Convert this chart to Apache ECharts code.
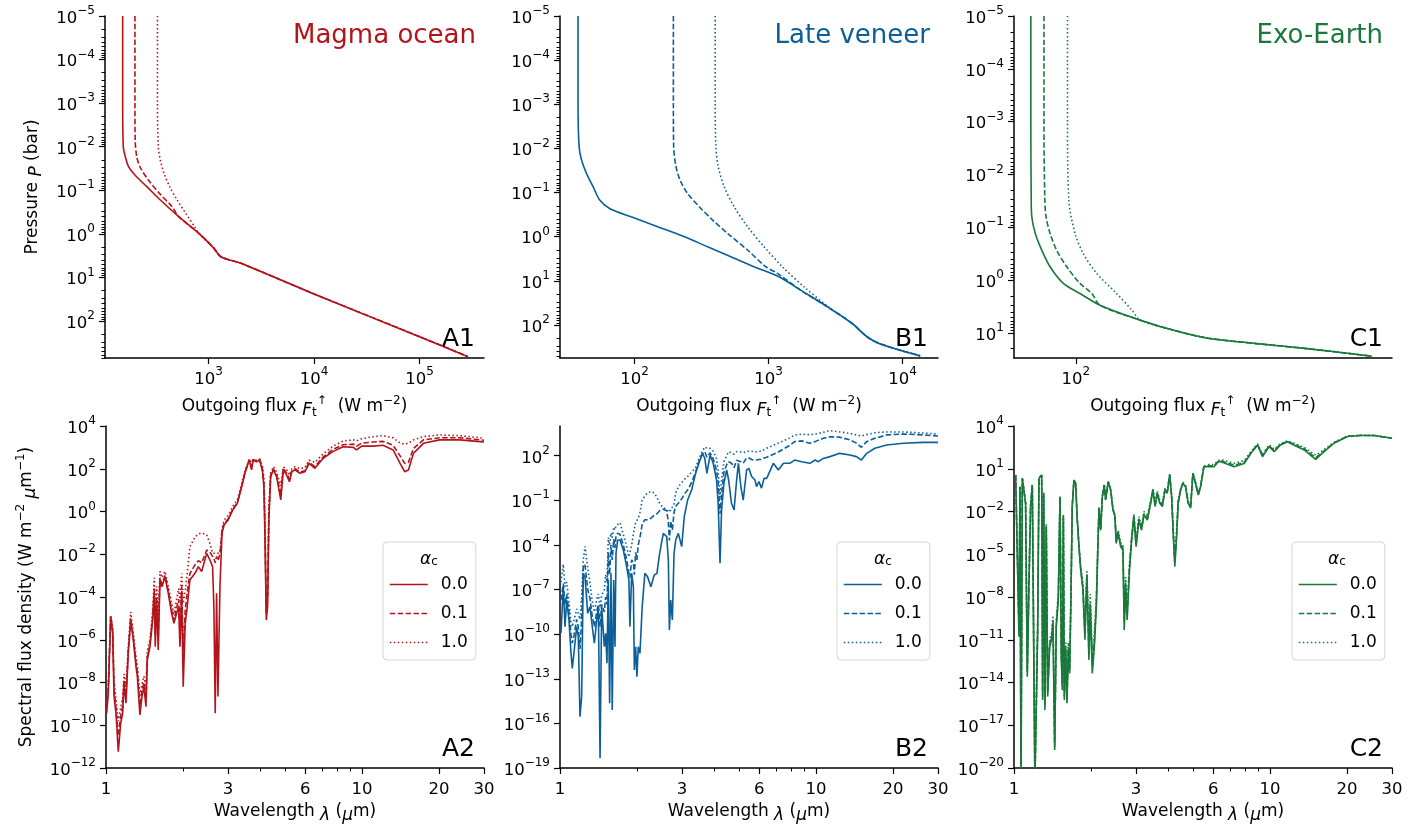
<!DOCTYPE html>
<html>
<head>
<meta charset="utf-8">
<title>Outgoing flux and emission spectra</title>
<script src="https://cdn.jsdelivr.net/npm/echarts@6.0.0/dist/echarts.min.js"></script>
<style>
  html, body { margin: 0; padding: 0; background: #fff; }
  #chart { width: 1420px; height: 825px; }
</style>
</head>
<body>
<div id="chart"></div>
<script>
// colours of the three scenarios
const RED = '#b3141c';
const BLUE = '#0b5f98';
const GREEN = '#18793a';
const FONT = 'DejaVu Sans';

// cloud parameter values shown in the legends
const alphaLabels = ['0.0', '0.1', '1.0'];

// ---- top row: outgoing flux (W m-2) against pressure (bar) ----
const magmaFlux0 = [153, 153, 155, 162, 174, 200, 259, 348, 520, 807, 1124, 1303, 2023, 10000, 100000, 288000];
const magmaPress0 = [1e-5, 1e-3, 0.01, 0.0169, 0.0288, 0.0447, 0.0826, 0.167, 0.403, 0.973, 2.15, 3.34, 4.75, 24, 229, 660];
const magmaFlux1 = [200, 200, 201, 208, 223, 268, 342, 450, 520, 807, 1124, 1303, 2023, 10000, 100000, 288000];
const magmaPress1 = [1e-5, 1e-3, 0.007, 0.0169, 0.0288, 0.0582, 0.118, 0.238, 0.403, 0.973, 2.15, 3.34, 4.75, 24, 229, 660];
const magmaFlux2 = [327, 327, 333, 348, 377, 427, 502, 607, 735, 807, 1124, 1303, 2023, 10000, 100000, 288000];
const magmaPress2 = [1e-5, 1e-3, 0.01, 0.0202, 0.0409, 0.0826, 0.167, 0.339, 0.684, 0.973, 2.15, 3.34, 4.75, 24, 229, 660];

const veneerFlux0 = [37.9, 37.9, 38.6, 40.2, 43.8, 49.1, 55, 65.2, 94.4, 149, 236, 351, 524, 780, 1197, 1735, 2740, 4204, 5433, 6823, 13550];
const veneerPress0 = [1e-5, 1e-3, 0.0091, 0.018, 0.0367, 0.0736, 0.148, 0.229, 0.355, 0.593, 1.0, 1.69, 2.84, 4.79, 8.05, 16.2, 38.5, 92, 185, 269, 501];
const veneerFlux1 = [195, 195, 196, 204, 219, 249, 304, 383, 494, 697, 953, 1164, 1735, 2740, 4204, 5433, 6823, 13550];
const veneerPress1 = [1e-5, 1e-3, 0.0091, 0.0257, 0.0525, 0.105, 0.209, 0.42, 0.84, 2.0, 4.79, 6.76, 16.2, 38.5, 92, 185, 269, 501];
const veneerFlux2 = [400, 400, 405, 421, 467, 554, 697, 927, 1268, 1837, 2790, 4204, 5433, 6823, 13550];
const veneerPress2 = [1e-5, 1e-3, 0.0091, 0.0257, 0.0736, 0.209, 0.593, 1.69, 4.79, 13.6, 38.5, 92, 185, 269, 501];

const earthFlux0 = [73.1, 73.1, 73.3, 73.6, 75.4, 78.9, 83.6, 91.7, 103, 118.5, 157, 198, 249, 353, 501, 789];
const earthPress0 = [1e-5, 1e-3, 0.0307, 0.0635, 0.1315, 0.272, 0.562, 1.16, 1.80, 3.0, 5.77, 8.93, 12.5, 16.0, 19.9, 27.7];
const earthFlux1 = [80.1, 80.1, 80.6, 81.3, 83.6, 87.5, 93.9, 103, 111.8, 118.5, 157, 198, 249, 353, 501, 789];
const earthPress1 = [1e-5, 1e-3, 0.0307, 0.0635, 0.1315, 0.272, 0.562, 1.16, 1.80, 3.0, 5.77, 8.93, 12.5, 16.0, 19.9, 27.7];
const earthFlux2 = [94.4, 94.4, 95.3, 99.5, 105.4, 115.8, 133, 148, 157, 198, 249, 353, 501, 789];
const earthPress2 = [1e-5, 1e-3, 0.0307, 0.1315, 0.315, 0.753, 1.80, 3.73, 5.77, 8.93, 12.5, 16.0, 19.9, 27.7];

// ---- bottom row: wavelength (um) and log10 of spectral flux density ----
const magmaWave = [
  1.006, 1.021, 1.043, 1.062, 1.075, 1.094, 1.117, 1.141, 1.162, 1.176,
  1.197, 1.222, 1.249, 1.279, 1.31, 1.326, 1.357, 1.382, 1.407, 1.433,
  1.45, 1.485, 1.522, 1.544, 1.558, 1.577, 1.6, 1.625, 1.655, 1.70,
  1.751, 1.805, 1.843, 1.888, 1.923, 1.945, 1.976, 2.003, 2.04, 2.077,
  2.127, 2.227, 2.295, 2.365, 2.475, 2.547, 2.609, 2.64, 2.672, 2.705,
  2.738, 2.788, 2.84, 2.893, 3.0, 3.127, 3.26, 3.39, 3.49, 3.63,
  3.705, 3.76, 3.876, 3.99, 4.09, 4.14, 4.18, 4.23, 4.28, 4.33,
  4.4, 4.51, 4.64, 4.82, 4.93, 5.08, 5.21, 5.32, 5.48, 5.72,
  5.99, 6.22, 6.55, 7.06, 7.7, 8.44, 9.26, 9.53, 9.98, 11.06,
  12.1, 13.24, 14.1, 14.7, 15.2, 15.9, 17.4, 20.1, 24.1, 28.9,
  30
];
const magmaSpec0 = [
  -9.44, -8.5, -4.92, -5.7, -8.66, -9.44, -11.24, -9.91, -9.44, -8.04,
  -8.97, -6.63, -5.08, -6.01, -7.26, -7.73, -9.52, -8.66, -8.2, -9.13,
  -6.95, -6.33, -5.08, -3.83, -6.33, -4.14, -6.48, -3.2, -3.52, -3.05,
  -3.83, -4.76, -5.23, -4.76, -4.45, -6.33, -3.83, -8.2, -5.23, -4.45,
  -3.2, -2.89, -2.58, -2.81, -1.96, -2.27, -2.58, -4.45, -9.44, -3.83,
  -8.66, -3.52, -1.02, -0.63, -0.4, 0.07, 0.38, 1.16, 1.79, 2.41,
  1.95, 2.41, 2.33, 2.41, 1.86, 1.16, -1.18, -5.08, -4.45, -0.4,
  1.63, 1.95, 1.63, 0.54, 1.95, 1.7, 1.39, 1.86, 1.95, 1.79,
  1.86, 2.25, 2.02, 2.49, 2.8, 3.03, 3.0, 2.88, 3.06, 3.06,
  3.1, 2.88, 2.25, 1.86, 1.94, 2.72, 3.19, 3.35, 3.35, 3.27,
  3.25
];
const magmaSpec1 = [
  -9.2, -8.3, -4.9, -5.6, -8.3, -9.2, -10.5, -9.6, -9.1, -7.9,
  -8.6, -6.5, -5.0, -5.9, -7.1, -7.5, -9.1, -8.4, -8.0, -8.8,
  -6.8, -6.2, -4.9, -3.6, -5.8, -4.0, -5.9, -3.1, -3.4, -3.0,
  -3.7, -4.6, -5.1, -4.5, -4.1, -5.5, -3.5, -6.5, -4.6, -3.8,
  -2.9, -2.5, -2.3, -2.4, -1.8, -1.9, -2.1, -2.2, -2.4, -2.1,
  -2.3, -2.0, -0.95, -0.55, -0.35, 0.1, 0.42, 1.2, 1.82, 2.42,
  2.1, 2.42, 2.35, 2.42, 1.95, 1.3, -0.8, -4.8, -4.1, -0.1,
  1.7, 2.0, 1.7, 0.8, 2.0, 1.8, 1.5, 1.9, 2.0, 1.85,
  1.9, 2.3, 2.1, 2.55, 2.9, 3.12, 3.15, 3.05, 3.2, 3.25,
  3.28, 3.1, 2.6, 2.25, 2.3, 2.95, 3.35, 3.45, 3.45, 3.35,
  3.33
];
const magmaSpec2 = [
  -8.9, -8.0, -4.85, -5.4, -7.9, -8.8, -9.8, -9.2, -8.7, -7.6,
  -8.2, -6.3, -4.7, -5.7, -6.8, -7.2, -8.6, -8.1, -7.7, -8.3,
  -6.5, -6.0, -4.6, -3.1, -5.0, -3.5, -5.0, -2.8, -3.1, -2.8,
  -3.5, -4.3, -4.8, -4.1, -3.6, -4.2, -2.9, -4.3, -3.7, -2.9,
  -1.65, -1.2, -1.05, -1.0, -1.1, -1.5, -1.95, -1.95, -1.95, -1.95,
  -1.95, -1.9, -0.8, -0.4, -0.2, 0.25, 0.55, 1.3, 1.9, 2.45,
  2.3, 2.45, 2.4, 2.45, 2.1, 1.6, -0.3, -4.5, -3.7, 0.3,
  1.8, 2.1, 1.85, 1.2, 2.1, 1.95, 1.7, 2.0, 2.1, 2.0,
  2.05, 2.4, 2.3, 2.7, 3.05, 3.3, 3.35, 3.3, 3.4, 3.5,
  3.55, 3.45, 3.2, 3.15, 3.2, 3.35, 3.5, 3.58, 3.55, 3.45,
  3.43
];

const veneerWave = [
  1.009, 1.03, 1.046, 1.062, 1.084, 1.104, 1.117, 1.137, 1.162, 1.179,
  1.197, 1.215, 1.233, 1.252, 1.283, 1.31, 1.337, 1.362, 1.391, 1.412,
  1.434, 1.455, 1.49, 1.508, 1.526, 1.544, 1.563, 1.582, 1.6, 1.621,
  1.64, 1.655, 1.68, 1.716, 1.768, 1.822, 1.859, 1.876, 1.906, 1.935,
  1.952, 1.975, 1.998, 2.022, 2.053, 2.095, 2.146, 2.198, 2.266, 2.335,
  2.392, 2.451, 2.533, 2.612, 2.651, 2.675, 2.708, 2.748, 2.79, 2.833,
  2.9, 2.989, 3.059, 3.152, 3.268, 3.388, 3.49, 3.6, 3.68, 3.75,
  3.86, 3.97, 4.09, 4.15, 4.22, 4.28, 4.37, 4.48, 4.56, 4.68,
  4.79, 4.9, 4.98, 5.09, 5.2, 5.36, 5.47, 5.61, 5.78, 5.86,
  5.99, 6.13, 6.27, 6.42, 6.82, 7.13, 7.47, 7.9, 8.26, 8.79,
  9.47, 9.93, 10.23, 10.69, 11.35, 12.4, 13.6, 14.4, 15.06, 15.8,
  17.0, 18.9, 22.0, 26.2, 30
];
const veneerSpec0 = [
  -9.94, -6.81, -9.5, -7.7, -9.05, -11.29, -12.3, -11.06, -9.5, -10.17,
  -15.55, -14.2, -5.91, -6.13, -8.6, -8.15, -9.5, -10.61, -9.05, -8.15,
  -18.35, -8.15, -10.84, -9.94, -11.96, -6.36, -14.65, -5.91, -15.1, -6.36,
  -10.84, -4.56, -3.67, -3.67, -4.34, -5.46, -6.36, -9.5, -5.91, -6.81,
  -12.41, -10.84, -12.86, -10.84, -11.29, -8.15, -5.91, -6.13, -6.81, -6.02,
  -5.91, -4.56, -3.22, -3.44, -5.01, -9.72, -7.7, -9.05, -4.56, -3.67,
  -3.22, -4.11, -2.1, -0.98, -0.3, 0.82, 1.49, 2.16, 1.83, 0.82,
  2.05, 1.49, 0.37, -1.2, -5.23, -1.65, 0.15, 1.04, 0.37, -1.2,
  -1.65, 0.37, 1.49, -0.07, -0.98, 1.04, 1.15, 0.6, 0.37, -0.07,
  0.26, -0.18, 0.48, 0.48, 1.49, 1.04, 1.49, 1.49, 1.71, 1.6,
  1.49, 1.71, 1.6, 1.82, 1.94, 2.16, 2.05, 1.94, 1.71, 2.16,
  2.5, 2.72, 2.84, 2.9, 2.9
];
const veneerSpec1 = [
  -7.7, -6.6, -8.0, -7.3, -8.5, -10.0, -10.6, -10.0, -9.0, -9.5,
  -11.0, -9.0, -5.5, -5.3, -7.0, -7.6, -8.8, -9.5, -8.5, -8.0,
  -9.5, -8.0, -8.5, -7.5, -8.0, -4.5, -6.0, -4.0, -5.0, -3.6,
  -4.2, -3.4, -3.2, -3.3, -4.0, -5.0, -5.9, -6.2, -5.0, -5.2,
  -6.0, -4.5, -5.0, -4.0, -3.5, -2.6, -2.3, -2.3, -2.2, -2.0,
  -1.9, -1.7, -1.6, -1.7, -2.5, -3.7, -2.4, -3.0, -1.8, -1.4,
  -1.2, -0.9, -0.6, -0.3, 0.2, 0.9, 1.6, 2.1, 2.27, 1.9,
  2.2, 1.8, 1.0, 0.2, -1.9, -0.6, 0.9, 1.4, 1.6, 1.5,
  1.2, 1.7, 1.8, 1.6, 1.5, 1.85, 1.85, 1.75, 1.7, 1.7,
  1.75, 1.75, 1.85, 1.9, 2.1, 2.25, 2.45, 2.7, 2.95, 3.0,
  2.84, 2.95, 3.05, 3.17, 3.28, 3.25, 3.06, 2.85, 2.57, 2.95,
  3.17, 3.4, 3.46, 3.4, 3.33
];
const veneerSpec2 = [
  -6.5, -5.3, -6.8, -6.5, -7.8, -9.2, -9.5, -9.0, -8.3, -8.6,
  -9.0, -7.5, -5.0, -4.1, -5.5, -6.6, -7.8, -8.5, -7.7, -7.3,
  -8.2, -7.4, -7.0, -6.0, -6.5, -3.5, -4.0, -3.2, -3.5, -2.8,
  -3.0, -2.7, -2.6, -2.5, -3.3, -4.1, -4.8, -4.8, -4.0, -3.3,
  -2.9, -2.5, -2.6, -2.2, -1.8, -1.0, -0.7, -0.5, -0.4, -0.5,
  -0.8, -1.2, -1.5, -1.6, -1.6, -1.8, -1.6, -1.7, -1.3, -0.5,
  -0.1, 0.2, 0.4, 0.6, 0.9, 1.2, 1.8, 2.3, 2.6, 2.5,
  2.5, 2.3, 1.8, 1.0, -0.8, 0.4, 1.6, 2.0, 2.27, 2.2,
  2.1, 2.27, 2.3, 2.25, 2.2, 2.3, 2.3, 2.3, 2.25, 2.25,
  2.3, 2.3, 2.4, 2.5, 2.7, 2.85, 3.0, 3.2, 3.39, 3.45,
  3.42, 3.46, 3.5, 3.58, 3.69, 3.6, 3.5, 3.4, 3.33, 3.42,
  3.55, 3.6, 3.6, 3.53, 3.46
];

const earthWave = [
  1.015, 1.033, 1.046, 1.055, 1.065, 1.078, 1.094, 1.11, 1.127, 1.144,
  1.161, 1.179, 1.197, 1.207, 1.222, 1.237, 1.252, 1.271, 1.283, 1.294,
  1.306, 1.321, 1.337, 1.354, 1.378, 1.403, 1.42, 1.442, 1.463, 1.49,
  1.513, 1.531, 1.545, 1.559, 1.573, 1.592, 1.611, 1.63, 1.65, 1.669,
  1.689, 1.715, 1.741, 1.767, 1.794, 1.822, 1.859, 1.893, 1.927, 1.962,
  1.986, 2.023, 2.061, 2.098, 2.124, 2.149, 2.181, 2.214, 2.253, 2.28,
  2.334, 2.386, 2.436, 2.48, 2.508, 2.554, 2.61, 2.665, 2.696, 2.729,
  2.768, 2.827, 2.876, 2.94, 3.0, 3.076, 3.15, 3.22, 3.32, 3.42,
  3.49, 3.56, 3.63, 3.71, 3.8, 3.89, 3.97, 4.06, 4.13, 4.19,
  4.25, 4.32, 4.38, 4.48, 4.57, 4.68, 4.79, 4.9, 5.0, 5.12,
  5.25, 5.36, 5.52, 5.78, 6.05, 6.28, 6.44, 7.25, 7.93, 8.43,
  8.95, 9.35, 9.93, 10.4, 10.99, 11.7, 12.8, 13.63, 14.4, 15.1,
  16.0, 17.8, 20.1, 22.6, 25.6, 30
];
const earthSpec0 = [
  0.56, 0.44, -10.79, -0.26, -21, 0.33, 0.2, -1.42, -13.59, -7.28,
  -1.65, -0.14, -0.02, -21, -21, -10.55, 0.33, 0.2, 0.56, -15.23,
  -0.72, -15.93, -3.07, -14.99, -11.49, -11.0, -9.85, -18.74, -10.08, -8.21,
  -0.96, -12.42, -14.53, -2.36, -15.23, -11.72, -15.46, -11.72, -13.36, -8.21,
  -1.65, 0.2, -0.02, -2.6, -4.47, -6.1, -7.51, -11.0, -6.57, -12.42,
  -8.67, -13.36, -11.49, -8.67, -4.93, -1.77, -3.31, -0.96, -0.14, -1.19,
  0.09, -0.49, -1.89, -2.36, -4.24, -3.54, -4.47, -4.71, -10.32, -7.28,
  -9.62, -6.1, -4.24, -2.36, -4.47, -2.6, -3.31, -2.25, -2.6, -1.42,
  -0.49, -1.65, -0.72, -1.42, -1.65, -0.49, -0.72, 0.56, -0.96, -3.54,
  -5.87, -3.77, -1.42, -0.49, -0.02, -0.26, -1.42, -1.77, 0.67, -0.02,
  -0.84, -0.26, 1.14, 1.14, 1.14, 1.49, 1.49, 1.14, 1.37, 2.08,
  2.67, 1.84, 2.55, 2.2, 2.67, 2.9, 2.55, 2.32, 1.96, 1.66,
  2.08, 2.79, 3.26, 3.33, 3.33, 3.14
];
const earthSpec1 = [
  0.56, 0.44, -10.5, -0.26, -21, 0.33, 0.2, -1.4, -13.3, -7.1,
  -1.6, -0.14, -0.02, -21, -21, -10.3, 0.33, 0.2, 0.56, -15.0,
  -0.7, -15.6, -3.0, -14.7, -11.3, -10.8, -9.6, -18.5, -9.9, -8.0,
  -0.96, -12.2, -14.3, -2.3, -15.0, -11.5, -15.2, -11.5, -13.1, -8.0,
  -1.6, 0.2, -0.02, -2.55, -4.4, -6.0, -7.3, -10.6, -6.4, -12.0,
  -8.4, -12.9, -11.1, -8.4, -4.8, -1.75, -3.25, -0.95, -0.14, -1.15,
  0.1, -0.45, -1.85, -2.3, -4.1, -3.45, -4.35, -4.55, -9.8, -7.0,
  -9.2, -5.9, -4.1, -2.3, -4.3, -2.5, -3.2, -2.15, -2.5, -1.35,
  -0.45, -1.55, -0.65, -1.35, -1.55, -0.45, -0.65, 0.58, -0.9, -3.4,
  -5.6, -3.6, -1.35, -0.45, 0.0, -0.22, -1.35, -1.7, 0.68, 0.0,
  -0.8, -0.22, 1.16, 1.2, 1.2, 1.52, 1.55, 1.25, 1.45, 2.12,
  2.7, 1.92, 2.6, 2.28, 2.7, 2.92, 2.62, 2.4, 2.06, 1.78,
  2.15, 2.82, 3.28, 3.34, 3.33, 3.14
];
const earthSpec2 = [
  0.57, 0.45, -10.2, -0.24, -21, 0.34, 0.22, -1.35, -13.0, -6.9,
  -1.55, -0.12, 0.0, -21, -21, -10.0, 0.35, 0.22, 0.57, -14.7,
  -0.68, -15.3, -2.9, -14.4, -11.0, -10.5, -9.3, -18.2, -9.6, -7.7,
  -0.94, -11.9, -14.0, -2.25, -14.7, -11.2, -14.9, -11.2, -12.8, -7.8,
  -1.55, 0.22, 0.0, -2.5, -4.3, -5.8, -7.0, -9.8, -6.1, -10.8,
  -7.8, -11.8, -10.4, -8.0, -4.6, -1.7, -3.2, -0.92, -0.12, -1.1,
  0.12, -0.4, -1.8, -2.2, -3.95, -3.3, -4.2, -4.3, -9.0, -6.6,
  -8.6, -5.6, -3.9, -2.2, -4.1, -2.35, -3.0, -2.0, -2.35, -1.25,
  -0.38, -1.45, -0.55, -1.25, -1.45, -0.38, -0.55, 0.62, -0.8, -3.2,
  -5.2, -3.3, -1.2, -0.38, 0.05, -0.15, -1.25, -1.6, 0.72, 0.05,
  -0.72, -0.15, 1.2, 1.3, 1.3, 1.58, 1.65, 1.38, 1.58, 2.2,
  2.75, 2.02, 2.68, 2.38, 2.75, 2.95, 2.7, 2.5, 2.2, 1.95,
  2.25, 2.86, 3.3, 3.35, 3.34, 3.15
];

// ---- tick values ----
const a1FluxTicks = [1e3, 1e4, 1e5];
const b1FluxTicks = [1e2, 1e3, 1e4];
const c1FluxTicks = [1e2];
const topPressTicks = [1e-5, 1e-4, 1e-3, 1e-2, 1e-1, 1, 10, 100];
const c1PressTicks = [1e-5, 1e-4, 1e-3, 1e-2, 1e-1, 1, 10];
const waveTicks = [1, 3, 6, 10, 20, 30];
const waveMinorTicks = [2, 4, 5, 7, 8, 9];
const a2SpecTicks = [1e-12, 1e-10, 1e-8, 1e-6, 1e-4, 1e-2, 1, 1e2, 1e4];
const b2SpecTicks = [1e-19, 1e-16, 1e-13, 1e-10, 1e-7, 1e-4, 1e-1, 1e2];
const c2SpecTicks = [1e-20, 1e-17, 1e-14, 1e-11, 1e-8, 1e-5, 1e-2, 10, 1e4];

// minor ticks 2..9 x 10^k inside an axis range
function minorTicks(lo, hi) {
  const out = [];
  for (let e = -6; e <= 3; e++) {
    for (let m = 2; m <= 9; m++) {
      const v = m * Math.pow(10, e);
      if (v > lo && v < hi) out.push(v);
    }
  }
  return out;
}

function pairs(xs, ys) {
  return xs.map((x, i) => [x, ys[i]]);
}
function specPairs(wave, exps) {
  return wave.map((w, i) => [w, Math.pow(10, exps[i])]);
}

// "10^n" tick label with real superscript
function powLabel(v) {
  const e = Math.round(Math.log10(v));
  return '{b|10}{s|' + (e < 0 ? '\u2212' + (-e) : String(e)) + '}';
}
function plainLabel(v) {
  return '{b|' + v + '}';
}

const tickRich = {
  b: { fontFamily: FONT, fontSize: 16.5, color: '#000', lineHeight: 22, verticalAlign: 'bottom' },
  s: { fontFamily: FONT, fontSize: 12, color: '#000', lineHeight: 12, verticalAlign: 'top' }
};
const nameRich = {
  i: { fontFamily: FONT, fontSize: 17, fontStyle: 'italic', color: '#000', lineHeight: 24, verticalAlign: 'bottom' },
  sub: { fontFamily: FONT, fontSize: 12, color: '#000', lineHeight: 12, verticalAlign: 'bottom' },
  sup: { fontFamily: FONT, fontSize: 12, color: '#000', lineHeight: 12, verticalAlign: 'top' }
};
const nameStyle = { fontFamily: FONT, fontSize: 17, color: '#000', lineHeight: 24, rich: nameRich };

function logAxis(grid, min, max, ticks, fmt, extra) {
  return Object.assign({
    type: 'log', logBase: 10, gridIndex: grid, min: min, max: max,
    axisLine: { show: true, onZero: false, lineStyle: { color: '#000', width: 1.5 } },
    axisTick: { show: true, inside: false, length: 6, customValues: ticks, lineStyle: { color: '#000', width: 1.2 } },
    axisLabel: {
      show: true, customValues: ticks, formatter: fmt, margin: 8, rich: tickRich,
      hideOverlap: false, showMinLabel: true, showMaxLabel: true
    },
    splitLine: { show: false }, minorTick: { show: false }, minorSplitLine: { show: false },
    nameLocation: 'middle', nameTextStyle: nameStyle
  }, extra || {});
}
function minorAxis(grid, min, max, ticks, extra) {
  return Object.assign({
    type: 'log', logBase: 10, gridIndex: grid, min: min, max: max,
    axisLine: { show: false, onZero: false },
    axisTick: { show: true, inside: false, length: 3.5, customValues: ticks, lineStyle: { color: '#000', width: 1 } },
    axisLabel: { show: false },
    splitLine: { show: false }, minorTick: { show: false }
  }, extra || {});
}

const TOP_X_NAME = 'Outgoing flux {i|F}{sub|t}{sup|\u2191}  (W m{sup|\u22122})';
const BOTTOM_X_NAME = 'Wavelength {i|\u03bb} ({i|\u03bc}m)';

const grids = [
  { left: 105, top: 16, width: 379, height: 342 },
  { left: 560, top: 16, width: 378, height: 342 },
  { left: 1014, top: 16, width: 378, height: 342 },
  { left: 106, top: 426, width: 378, height: 342 },
  { left: 560, top: 426, width: 378, height: 342 },
  { left: 1014, top: 426, width: 378, height: 342 }
].map(g => Object.assign({ containLabel: false, outerBoundsMode: 'none' }, g));

const xAxis = [
  logAxis(0, 104, 4.08e5, a1FluxTicks, powLabel, { name: TOP_X_NAME, nameGap: 37 }),
  logAxis(1, 27.8, 1.84e4, b1FluxTicks, powLabel, { name: TOP_X_NAME, nameGap: 37 }),
  logAxis(2, 65, 908, c1FluxTicks, powLabel, { name: TOP_X_NAME, nameGap: 37 }),
  logAxis(3, 1, 30, waveTicks, plainLabel, { name: BOTTOM_X_NAME, nameGap: 32 }),
  logAxis(4, 1, 30, waveTicks, plainLabel, { name: BOTTOM_X_NAME, nameGap: 32 }),
  logAxis(5, 1, 30, waveTicks, plainLabel, { name: BOTTOM_X_NAME, nameGap: 32 }),
  minorAxis(3, 1, 30, waveMinorTicks, { position: 'bottom' }),
  minorAxis(4, 1, 30, waveMinorTicks, { position: 'bottom' }),
  minorAxis(5, 1, 30, waveMinorTicks, { position: 'bottom' })
];

function withMargin(ax) {
  ax.axisLabel.margin = 10;
  return ax;
}
const yAxis = [
  withMargin(logAxis(0, 1e-5, 706, topPressTicks, powLabel, { inverse: true, name: 'Pressure {i|P} (bar)', nameGap: 60 })),
  withMargin(logAxis(1, 1e-5, 560, topPressTicks, powLabel, { inverse: true })),
  withMargin(logAxis(2, 1e-5, 30, c1PressTicks, powLabel, { inverse: true })),
  withMargin(logAxis(3, 1e-12, 1e4, a2SpecTicks, powLabel, {
    name: 'Spectral flux density (W m{sup|\u22122} {i|\u03bc}m{sup|\u22121})', nameGap: 67
  })),
  withMargin(logAxis(4, 1e-19, 1e4, b2SpecTicks, powLabel)),
  withMargin(logAxis(5, 1e-20, 1e4, c2SpecTicks, powLabel)),
  minorAxis(0, 1e-5, 706, minorTicks(1e-5, 706), { inverse: true, position: 'left' }),
  minorAxis(1, 1e-5, 560, minorTicks(1e-5, 560), { inverse: true, position: 'left' }),
  minorAxis(2, 1e-5, 30, minorTicks(1e-5, 30), { inverse: true, position: 'left' })
];

// line styles: solid, dashed, dotted
const DASHES = ['solid', [5.5, 2.4], [1.5, 2.5]];

function line(name, idx, color, k, data, smooth) {
  return {
    type: 'line', name: name, xAxisIndex: idx, yAxisIndex: idx, data: data,
    symbol: 'none', showSymbol: false, clip: true, silent: true,
    smooth: smooth,
    lineStyle: { color: color, width: 1.6, type: DASHES[k] },
    itemStyle: { color: color },
    z: 3 + k
  };
}

const panels = [
  { key: 'A', color: RED,
    flux: [magmaFlux0, magmaFlux1, magmaFlux2], press: [magmaPress0, magmaPress1, magmaPress2],
    wave: magmaWave, spec: [magmaSpec0, magmaSpec1, magmaSpec2] },
  { key: 'B', color: BLUE,
    flux: [veneerFlux0, veneerFlux1, veneerFlux2], press: [veneerPress0, veneerPress1, veneerPress2],
    wave: veneerWave, spec: [veneerSpec0, veneerSpec1, veneerSpec2] },
  { key: 'C', color: GREEN,
    flux: [earthFlux0, earthFlux1, earthFlux2], press: [earthPress0, earthPress1, earthPress2],
    wave: earthWave, spec: [earthSpec0, earthSpec1, earthSpec2] }
];

const series = [];
panels.forEach((p, i) => {
  for (let k = 0; k < 3; k++) {
    series.push(line(p.key + '1|' + alphaLabels[k], i, p.color, k, pairs(p.flux[k], p.press[k]), 0.3));
  }
  for (let k = 0; k < 3; k++) {
    series.push(line(p.key + '2|' + alphaLabels[k], i + 3, p.color, k, specPairs(p.wave, p.spec[k]), false));
  }
});

const legendLefts = [383, 837, 1292];
const legend = panels.map((p, i) => ({
  show: true, orient: 'vertical', left: legendLefts[i], top: 542,
  data: alphaLabels.map(a => p.key + '2|' + a),
  formatter: n => n.split('|')[1],
  selectedMode: false,
  itemWidth: 38, itemHeight: 14, itemGap: 12,
  padding: [34, 8, 9, 6],
  borderColor: '#d4d4d4', borderWidth: 1, borderRadius: 4,
  backgroundColor: 'rgba(255,255,255,0.8)',
  textStyle: { fontFamily: FONT, fontSize: 17, color: '#000', padding: [0, 0, 0, 8] },
  itemStyle: { opacity: 0 },
  lineStyle: { width: 1.6 }
}));

function label(text, x, y, color, size, align) {
  return {
    type: 'text', x: x, y: y, silent: true, z: 100,
    style: {
      text: text, fill: color, fontFamily: FONT, fontSize: size,
      align: align, verticalAlign: 'middle'
    }
  };
}
function alphaTitle(x) {
  return {
    type: 'text', x: x, y: 557, silent: true, z: 100,
    style: {
      text: '{a|\u03b1}{c|c}', align: 'center', verticalAlign: 'middle',
      rich: {
        a: { fontFamily: FONT, fontSize: 17, fontStyle: 'italic', fill: '#000', lineHeight: 22, verticalAlign: 'bottom' },
        c: { fontFamily: FONT, fontSize: 12, fill: '#000', lineHeight: 14, verticalAlign: 'bottom' }
      }
    }
  };
}

const graphic = [
  label('Magma ocean', 476, 36, RED, 26, 'right'),
  label('Late veneer', 930, 36, BLUE, 26, 'right'),
  label('Exo-Earth', 1383, 36, GREEN, 26, 'right'),
  label('A1', 475, 339, '#000', 25, 'right'),
  label('B1', 928, 339, '#000', 25, 'right'),
  label('C1', 1383, 339, '#000', 25, 'right'),
  label('A2', 475, 749, '#000', 25, 'right'),
  label('B2', 928, 749, '#000', 25, 'right'),
  label('C2', 1383, 749, '#000', 25, 'right'),
  alphaTitle(429), alphaTitle(883), alphaTitle(1337)
];

const chart = echarts.init(document.getElementById('chart'), null, { renderer: 'canvas' });
chart.setOption({
  animation: false,
  backgroundColor: '#fff',
  textStyle: { fontFamily: FONT },
  grid: grids,
  xAxis: xAxis,
  yAxis: yAxis,
  legend: legend,
  graphic: graphic,
  series: series
});

window.addEventListener('resize', function () {
  chart.resize();
});
</script>
</body>
</html>
